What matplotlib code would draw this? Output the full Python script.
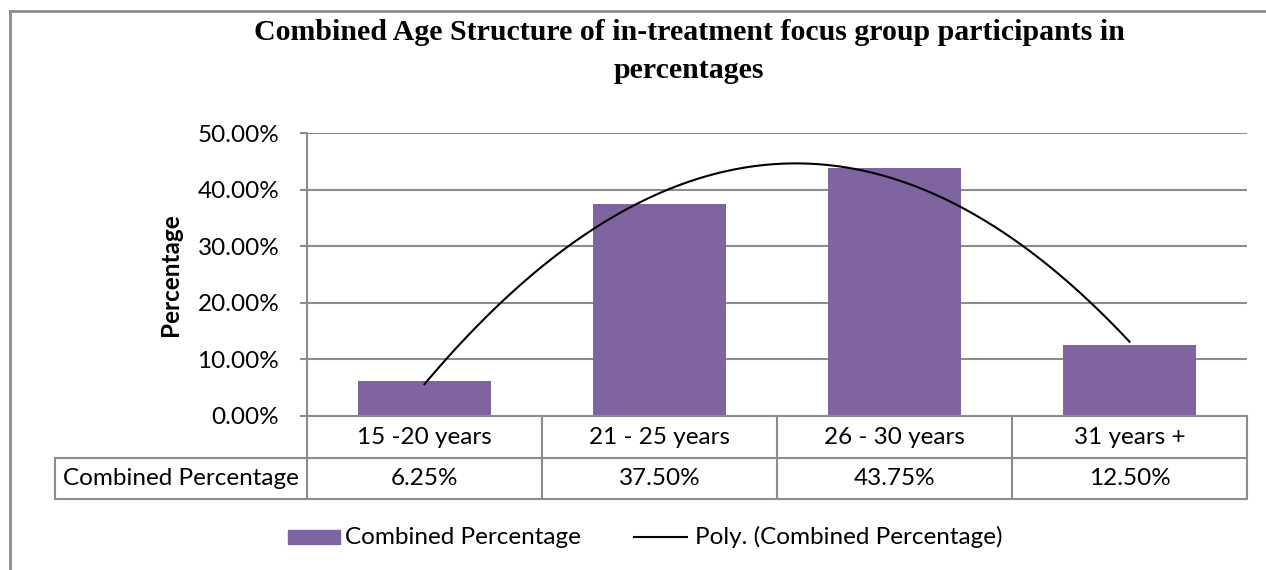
"""
Combined age structure of in-treatment focus group participants,
bar chart with a 2nd order trend line and an Excel-style data table.
"""

import numpy as np
import matplotlib
matplotlib.use("Agg")
import matplotlib.pyplot as plt
from matplotlib.lines import Line2D
from matplotlib.patches import Rectangle
from matplotlib.ticker import PercentFormatter

TITLE = "Combined Age Structure of in-treatment focus group participants in\npercentages"
CATEGORIES = ["15 -20 years", "21 - 25 years", "26 - 30 years", "31 years +"]
PERCENTAGES = [6.25, 37.50, 43.75, 12.50]
SERIES_NAME = "Combined Percentage"
TREND_NAME = "Poly. (Combined Percentage)"
Y_TICKS = [0, 10, 20, 30, 40, 50]

BAR_COLOR = "#8064A2"
GRID_COLOR = "#8C8C8C"
FONT = ["Lato", "DejaVu Sans"]
FS = 17.5

W, H = 1266, 570


def fx(px):
    return px / W


def fy(py):
    return 1 - py / H


def main():
    plt.rcParams["font.family"] = FONT
    fig = plt.figure(figsize=(W / 100, H / 100), dpi=100)

    # chart frame (cropped on the right and bottom like the source)
    fig.add_artist(Line2D([fx(10), fx(W)], [fy(11), fy(11)], color=GRID_COLOR, lw=2,
                          transform=fig.transFigure))
    fig.add_artist(Line2D([fx(10), fx(10)], [fy(11), fy(H)], color=GRID_COLOR, lw=2,
                          transform=fig.transFigure))

    fig.text(fx(689), fy(19), TITLE, ha="center", va="top", fontsize=21.5,
             fontweight="bold", family="Liberation Serif", linespacing=1.5)

    left, right, top, bottom = 307, 1247, 133, 416
    ax = fig.add_axes([fx(left), fy(bottom), fx(right - left), (bottom - top) / H])

    x = np.arange(len(CATEGORIES))
    ax.bar(x, PERCENTAGES, width=0.57, color=BAR_COLOR, zorder=2)

    coef = np.polyfit(x, PERCENTAGES, 2)
    xs = np.linspace(x[0], x[-1], 200)
    ax.plot(xs, np.polyval(coef, xs), color="black", lw=1.5, zorder=3)

    ax.set_xlim(-0.5, len(CATEGORIES) - 0.5)
    ax.set_ylim(0, 50)
    ax.set_yticks(Y_TICKS)
    ax.yaxis.set_major_formatter(PercentFormatter(decimals=2))
    ax.tick_params(axis="y", length=5, width=1.5, color=GRID_COLOR, pad=15, labelsize=FS)
    ax.set_xticks([])
    ax.yaxis.grid(True, color=GRID_COLOR, lw=1.5, zorder=0)
    ax.set_axisbelow(True)
    for side in ["top", "right", "bottom"]:
        ax.spines[side].set_visible(False)
    ax.spines["left"].set_color(GRID_COLOR)
    ax.spines["left"].set_linewidth(1.5)

    ax.set_ylabel("Percentage", fontsize=FS, fontweight="bold", labelpad=11)

    # data table under the axis
    ph = bottom - top
    row1 = (458 - bottom) / ph
    row2 = (499 - bottom) / ph
    label_left = (55 - left) / (right - left)
    tkw = dict(transform=ax.transAxes, clip_on=False, color=GRID_COLOR, lw=1.5)
    ax.add_line(Line2D([0, 1], [0, 0], **tkw))
    ax.add_line(Line2D([label_left, 1], [-row1, -row1], **tkw))
    ax.add_line(Line2D([label_left, 1], [-row2, -row2], **tkw))
    ax.add_line(Line2D([label_left, label_left], [-row1, -row2], **tkw))
    n = len(CATEGORIES)
    for i in range(n + 1):
        ax.add_line(Line2D([i / n, i / n], [0, -row2], **tkw))
    for i, (cat, val) in enumerate(zip(CATEGORIES, PERCENTAGES)):
        cx = (i + 0.5) / n
        ax.text(cx, -row1 / 2, cat, transform=ax.transAxes, ha="center", va="center",
                fontsize=FS)
        ax.text(cx, -(row1 + row2) / 2, f"{val:.2f}%", transform=ax.transAxes,
                ha="center", va="center", fontsize=FS)
    ax.text(label_left / 2, -(row1 + row2) / 2, SERIES_NAME, transform=ax.transAxes,
            ha="center", va="center", fontsize=FS)

    # legend drawn by hand to match positions
    ly = fy(537)
    fig.add_artist(Rectangle((fx(288), ly - 7 / H), fx(52), 14 / H, color=BAR_COLOR,
                             transform=fig.transFigure))
    fig.text(fx(345), ly, SERIES_NAME, ha="left", va="center", fontsize=FS)
    fig.add_artist(Line2D([fx(634), fx(687)], [ly, ly], color="black", lw=1.5,
                          transform=fig.transFigure))
    fig.text(fx(695), ly, TREND_NAME, ha="left", va="center", fontsize=FS)

    fig.savefig("out.png", dpi=100)


if __name__ == "__main__":
    main()
